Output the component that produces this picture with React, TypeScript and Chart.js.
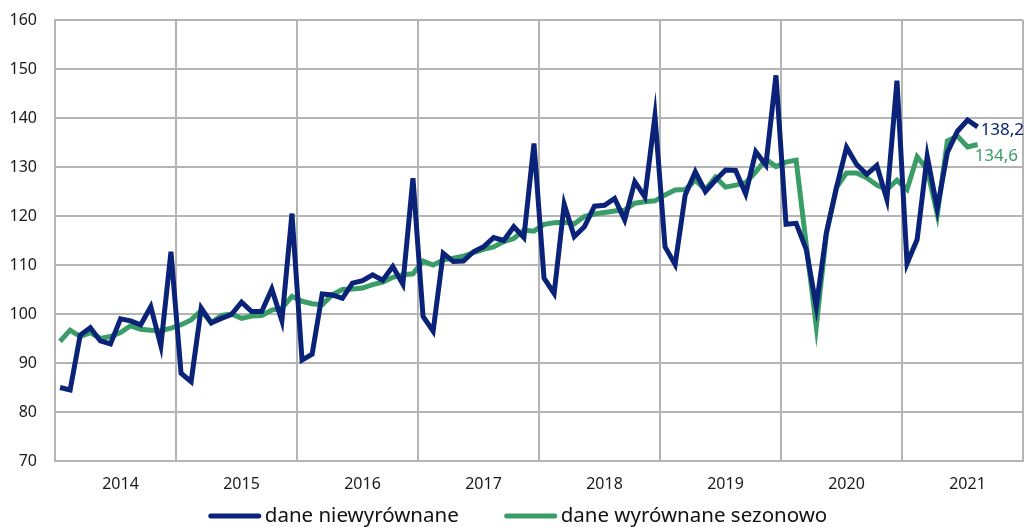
import React, { useEffect, useRef } from "react";
import { Chart, registerables } from "chart.js";

Chart.register(...registerables);

const startYear = 2014;
const yearLabels = ["2014", "2015", "2016", "2017", "2018", "2019", "2020", "2021"];
const seriesNames = ["dane niewyrównane", "dane wyrównane sezonowo"];
const seriesColors = ["#0a2277", "#3a9d68"];

// monthly values, Jan 2014 – Aug 2021
const unadjusted = [
  85.0, 84.5, 95.7, 97.2, 94.5, 93.9, 99.0, 98.6, 97.8, 101.5, 93.5, 112.7,
  87.9, 86.2, 101.2, 98.2, 99.1, 99.9, 102.4, 100.5, 100.5, 105.1, 98.6, 120.5,
  90.6, 91.8, 104.1, 103.9, 103.2, 106.3, 106.8, 108.0, 106.9, 109.7, 106.1, 127.7,
  99.5, 96.5, 112.4, 110.7, 110.8, 112.7, 113.7, 115.6, 115.0, 117.8, 115.6, 134.8,
  107.3, 104.2, 122.4, 115.8, 117.8, 122.0, 122.2, 123.6, 119.2, 127.0, 123.9, 140.4,
  113.7, 110.1, 124.3, 129.0, 125.0, 127.3, 129.4, 129.3, 124.5, 133.1, 130.4, 148.7,
  118.3, 118.5, 113.2, 101.5, 116.6, 125.8, 134.0, 130.5, 128.5, 130.3, 123.4, 147.6,
  110.3, 115.2, 132.2, 121.5, 133.0, 137.3, 139.6, 138.2,
];

const seasonallyAdjusted = [
  94.4, 96.7, 95.4, 96.2, 95.0, 95.4, 96.2, 97.6, 96.9, 96.7, 96.6, 97.1,
  97.8, 98.8, 100.7, 98.2, 99.7, 100.0, 99.1, 99.6, 99.7, 100.8, 101.2, 103.6,
  102.6, 102.1, 101.9, 103.9, 105.0, 105.1, 105.3, 106.0, 106.5, 107.5, 108.0, 108.2,
  110.8, 110.0, 111.0, 111.4, 111.8, 112.5, 113.2, 113.7, 114.8, 115.4, 117.1, 116.9,
  118.3, 118.6, 118.7, 118.4, 119.9, 120.4, 120.7, 121.0, 121.2, 122.6, 122.9, 123.1,
  124.3, 125.3, 125.4, 127.3, 125.4, 127.9, 125.9, 126.3, 126.8, 129.0, 131.6, 130.1,
  131.0, 131.4, 114.2, 97.5, 116.3, 125.8, 128.8, 128.8, 127.8, 126.3, 125.4, 127.3,
  125.4, 132.1, 129.5, 120.3, 135.3, 136.3, 134.1, 134.6,
];

const endLabels = ["138,2", "134,6"];

const FONT = "'Noto Sans', 'DejaVu Sans', sans-serif";

const toPoints = (arr: number[]) => arr.map((y, i) => ({ x: i + 0.5, y }));

const endLabelPlugin = {
  id: "endLabels",
  afterDatasetsDraw(chart: any) {
    const ctx = chart.ctx;
    ctx.save();
    ctx.font = `17px ${FONT}`;
    ctx.textBaseline = "middle";
    chart.data.datasets.forEach((ds: any, di: number) => {
      const meta = chart.getDatasetMeta(di);
      const pt = meta.data[meta.data.length - 1];
      if (!pt) return;
      ctx.fillStyle = seriesColors[di];
      ctx.textAlign = "left";
      const dx = di === 0 ? 3 : -3;
      const dy = di === 0 ? 3 : 12;
      ctx.fillText(endLabels[di], pt.x + dx, pt.y + dy);
    });
    ctx.restore();
  },
};

const legendPlugin = {
  id: "customLegend",
  afterDraw(chart: any) {
    const ctx = chart.ctx;
    ctx.save();
    ctx.font = `20.5px ${FONT}`;
    ctx.textBaseline = "middle";
    const lineW = 52;
    const gapText = 4;
    const gapItems = 46;
    const widths = seriesNames.map((n) => lineW + gapText + ctx.measureText(n).width);
    const total = widths.reduce((a, b) => a + b, 0) + gapItems;
    let x = 518 - total / 2;
    const y = 516;
    seriesNames.forEach((n, i) => {
      ctx.strokeStyle = seriesColors[i];
      ctx.lineWidth = 5;
      ctx.lineCap = "round";
      ctx.beginPath();
      ctx.moveTo(x + 2, y);
      ctx.lineTo(x + lineW - 2, y);
      ctx.stroke();
      ctx.fillStyle = "#111";
      ctx.textAlign = "left";
      ctx.fillText(n, x + lineW + gapText, y);
      x += widths[i] + gapItems;
    });
    ctx.restore();
  },
};

export default function App() {
  const canvasRef = useRef<HTMLCanvasElement | null>(null);

  useEffect(() => {
    if (!canvasRef.current) return;
    const gridColor = "#b4b4b4";
    const clear = "rgba(0,0,0,0)";
    const chart = new Chart(canvasRef.current, {
      type: "line",
      data: {
        datasets: [
          {
            label: seriesNames[0],
            data: toPoints(unadjusted),
            borderColor: seriesColors[0],
            backgroundColor: seriesColors[0],
            borderWidth: 5,
            pointRadius: 0,
            tension: 0,
            borderJoinStyle: "miter",
          },
          {
            label: seriesNames[1],
            data: toPoints(seasonallyAdjusted),
            borderColor: seriesColors[1],
            backgroundColor: seriesColors[1],
            borderWidth: 5,
            pointRadius: 0,
            tension: 0,
            borderJoinStyle: "miter",
          },
        ],
      },
      options: {
        responsive: false,
        animation: false,
        layout: { padding: { top: 20, right: 2, left: 0, bottom: 31 } },
        plugins: {
          legend: { display: false },
          tooltip: { enabled: false },
        },
        scales: {
          x: {
            type: "linear",
            min: 0,
            max: yearLabels.length * 12,
            afterFit: (s: any) => {
              s.height = 35;
            },
            afterBuildTicks: (s: any) => {
              const t = [];
              for (let v = 0; v <= yearLabels.length * 12; v += 6) t.push({ value: v });
              s.ticks = t;
            },
            ticks: {
              autoSkip: false,
              maxRotation: 0,
              padding: 0,
              labelOffset: 5,
              color: "#1a1a1a",
              font: { family: FONT, size: 16 },
              callback: (v: any) => {
                const n = Number(v);
                if (n % 12 === 6) return yearLabels[(n - 6) / 12] ?? String(startYear + (n - 6) / 12);
                return "";
              },
            },
            grid: {
              drawTicks: true,
              tickLength: 14,
              tickColor: clear,
              lineWidth: 2,
              color: (c: any) => (c.tick && c.tick.value % 12 === 0 ? gridColor : clear),
            },
            border: { display: true, color: gridColor, width: 2 },
          },
          y: {
            min: 70,
            max: 160,
            afterFit: (s: any) => {
              s.width = 55;
            },
            ticks: {
              stepSize: 10,
              padding: 0,
              color: "#1a1a1a",
              font: { family: FONT, size: 16 },
            },
            grid: { drawTicks: true, tickLength: 18, tickColor: clear, lineWidth: 2, color: gridColor },
            border: { display: true, color: gridColor, width: 2 },
          },
        },
      },
      plugins: [endLabelPlugin, legendPlugin],
    } as any);
    return () => chart.destroy();
  }, []);

  return (
    <div style={{ position: "fixed", left: 0, top: 0, width: 1025, height: 527, background: "#fff" }}>
      <canvas ref={canvasRef} width={1025} height={527} style={{ width: 1025, height: 527, display: "block" }} />
    </div>
  );
}
